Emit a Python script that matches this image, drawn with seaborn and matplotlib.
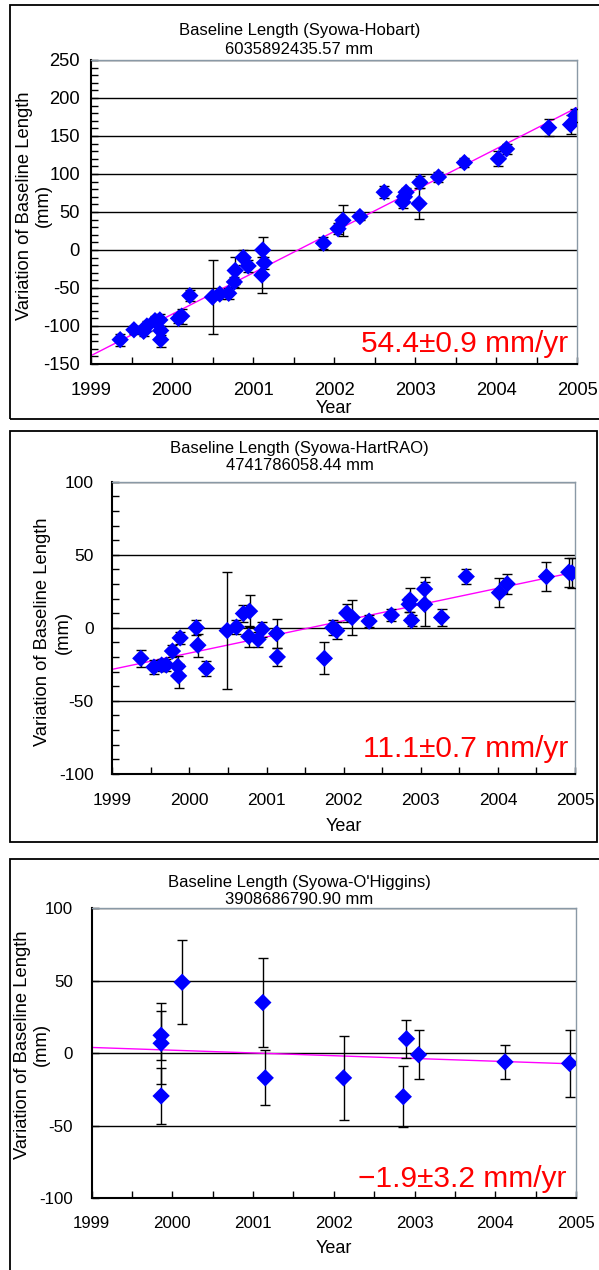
import numpy as np
import pandas as pd
import matplotlib
matplotlib.use('Agg')
import matplotlib.pyplot as plt
import seaborn as sns
from matplotlib.patches import Rectangle
from matplotlib.ticker import MultipleLocator

# --- data ---
hob_year = [1999.36, 1999.53, 1999.65, 1999.69, 1999.79, 1999.85, 1999.86, 1999.86,
            2000.08, 2000.12, 2000.22, 2000.50, 2000.59, 2000.70, 2000.77, 2000.78,
            2000.88, 2000.94, 2001.11, 2001.12, 2001.14, 2001.87, 2002.05, 2002.11,
            2002.32, 2002.62, 2002.85, 2002.87, 2002.89, 2003.05, 2003.06, 2003.29,
            2003.61, 2004.03, 2004.13, 2004.65, 2004.92, 2004.98]
hob_val = [-118, -105, -107, -100, -93, -92, -106, -118,
           -90, -87, -60, -62, -58, -57, -42, -27,
           -10, -21, -33, 0, -17, 9, 28, 39,
           44, 76, 63, 70, 76, 61, 89, 96,
           115, 120, 133, 161, 165, 177]
hob_err = [8, 5, 6, 6, 6, 8, 6, 10,
           6, 10, 7, 49, 6, 7, 7, 18,
           10, 8, 24, 17, 8, 8, 7, 20,
           5, 8, 8, 8, 6, 20, 8, 7,
           6, 10, 7, 11, 12, 8]

har_year = [1999.37, 1999.54, 1999.64, 1999.70, 1999.78, 1999.85, 1999.86, 1999.88,
            2000.09, 2000.11, 2000.22, 2000.49, 2000.61, 2000.70, 2000.78, 2000.77,
            2000.89, 2000.94, 2001.13, 2001.14, 2001.75, 2001.86, 2001.91, 2002.04,
            2002.11, 2002.33, 2002.62, 2002.86, 2002.85, 2002.88, 2003.05, 2003.05,
            2003.27, 2003.59, 2004.02, 2004.12, 2004.63, 2004.92, 2004.96]
har_val = [-21, -27, -25.6, -25.6, -16, -26.5, -33, -7,
           0, -12, -28, -2, 0.4, 9.7, 11.3, -6,
           -8, -1.2, -4, -20, -21, 0, -2, 10,
           7, 4.5, 8.6, 19, 16, 5, 26.5, 16,
           7, 35, 24, 30, 35, 38, 37.5]
har_err = [6, 5, 4, 4, 4, 7, 8, 4,
           5, 8, 5, 40, 5, 6, 11, 7,
           5, 5, 10, 6, 11, 5, 6, 6,
           12, 4, 4, 8, 5, 4, 8, 15,
           6, 5, 10, 7, 10, 10, 10]

ohg_year = [1999.86, 1999.86, 1999.86, 2000.12, 2001.12, 2001.15,
            2002.12, 2002.86, 2002.90, 2003.05, 2004.12, 2004.92]
ohg_val = [12.4, 6.9, -29.5, 49, 35, -17, -17, -30, 10, -1, -6, -7]
ohg_err = [17, 28, 19, 29, 31, 19, 29, 21, 13, 17, 11.5, 23]

titles = ['Baseline Length (Syowa-Hobart)', 'Baseline Length (Syowa-HartRAO)',
          "Baseline Length (Syowa-O'Higgins)"]
lengths = ['6035892435.57 mm', '4741786058.44 mm', '3908686790.90 mm']
rates = [54.4, 11.1, -1.9]
rate_sig = [0.9, 0.7, 3.2]
fit_start = [-139, -28.5, 4]   # fitted value at 1999.0
ylims = [(-150, 250), (-100, 100), (-100, 100)]

sns.set_theme(style='white')
plt.rcParams['font.family'] = ['Liberation Sans', 'DejaVu Sans']
plt.rcParams['axes.unicode_minus'] = False

W, H = 599, 1270
fig = plt.figure(figsize=(W / 100, H / 100), dpi=100, facecolor='white')


def px_rect(l, t, r, b):
    return [l / W, 1 - b / H, (r - l) / W, (b - t) / H]


# panel frames (pixel coords)
for (l, t, r, b) in [(10, 5, 603, 419), (10, 431, 597, 842), (10, 859, 603, 1275)]:
    fig.add_artist(Rectangle((l / W, 1 - b / H), (r - l) / W, (b - t) / H,
                             transform=fig.transFigure, fill=False,
                             edgecolor='black', linewidth=1.3))

axes_px = [(91, 60, 577, 364), (112.3, 481.7, 575, 773.7), (91.7, 908.4, 576, 1198.1)]
title_y = [31, 448, 882]
tick_fs = [13.2, 12.5, 12.2]
ytick_pad = [8, 13.5, 13.5]
xtick_pad = [13, 14, 13]
ylab_px = [(25, 43), (43, 63), (23, 41)]   # x centres of the two y-label lines
ylab_yc = [0.52, 0.485, 0.53]
xlab_y = [-0.118, -0.152, -0.145]
rate_pos = [(0.981, 0.039), (0.985, 0.057), (0.980, 0.039)]
minor_y = [10, 10, None]

datasets = [(hob_year, hob_val, hob_err), (har_year, har_val, har_err),
            (ohg_year, ohg_val, ohg_err)]

for i, (yrs, vals, errs) in enumerate(datasets):
    l, t, r, b = axes_px[i]
    ax = fig.add_axes(px_rect(l, t, r, b))
    df = pd.DataFrame({'year': yrs, 'val': vals, 'err': errs})

    # fit line
    fit = pd.DataFrame({'year': [1999.0, 2005.0]})
    fit['val'] = fit_start[i] + rates[i] * (fit['year'] - 1999.0)
    sns.lineplot(data=fit, x='year', y='val', ax=ax, color='#ff00ff', lw=1.0, zorder=2)

    ax.errorbar(df['year'], df['val'], yerr=df['err'], fmt='none', ecolor='black',
                elinewidth=1.0, capsize=3.5, capthick=1.0, zorder=3)
    sns.scatterplot(data=df, x='year', y='val', ax=ax, marker='D', s=78,
                    color='#0000ff', edgecolor='none', linewidth=0, zorder=4)

    ax.set_xlim(1999, 2005)
    ax.set_ylim(*ylims[i])
    ax.xaxis.set_major_locator(MultipleLocator(1))
    ax.xaxis.set_minor_locator(MultipleLocator(0.5))
    ax.yaxis.set_major_locator(MultipleLocator(50))
    if minor_y[i]:
        ax.yaxis.set_minor_locator(MultipleLocator(minor_y[i]))
    ax.grid(axis='y', which='major', color='black', linewidth=1.0)
    ax.set_axisbelow(True)

    for s in ['left', 'bottom']:
        ax.spines[s].set_color('black')
        ax.spines[s].set_linewidth(1.5)
    for s in ['top', 'right']:
        ax.spines[s].set_color('#8a99a6')
        ax.spines[s].set_linewidth(1.0)

    ax.tick_params(axis='both', which='both', direction='in', left=True, bottom=True,
                   color='black', width=1.0, labelsize=tick_fs[i], labelcolor='black')
    ax.tick_params(axis='both', which='both', length=5)
    ax.tick_params(axis='x', pad=xtick_pad[i])
    ax.tick_params(axis='y', pad=ytick_pad[i])
    ax.set_xticks(range(1999, 2006))
    ax.set_xticklabels([str(y) for y in range(1999, 2006)])

    ax.set_xlabel('Year', fontsize=13, color='black')
    ax.xaxis.set_label_coords(0.5, xlab_y[i])
    ax.set_ylabel('')
    # two-line y label drawn as separate texts
    for txt, xc in zip(['Variation of Baseline Length', '(mm)'], ylab_px[i]):
        ax.text((xc - l) / (r - l), ylab_yc[i], txt, transform=ax.transAxes,
                rotation=90, ha='center', va='center', fontsize=13.2, color='black')

    sign = '\u2212' if rates[i] < 0 else ''
    ax.text(rate_pos[i][0], rate_pos[i][1],
            f'{sign}{abs(rates[i]):.1f}\u00b1{rate_sig[i]:.1f} mm/yr',
            transform=ax.transAxes, ha='right', va='baseline', color='#ff0000',
            fontsize=21.5)

    fig.text(0.5, 1 - title_y[i] / H, titles[i], ha='center', va='center',
             fontsize=12, color='black')
    fig.text(0.5, 1 - (title_y[i] + 18) / H, lengths[i], ha='center', va='center',
             fontsize=12, color='black')

plt.savefig('out.png', dpi=100, facecolor='white')
plt.close(fig)
